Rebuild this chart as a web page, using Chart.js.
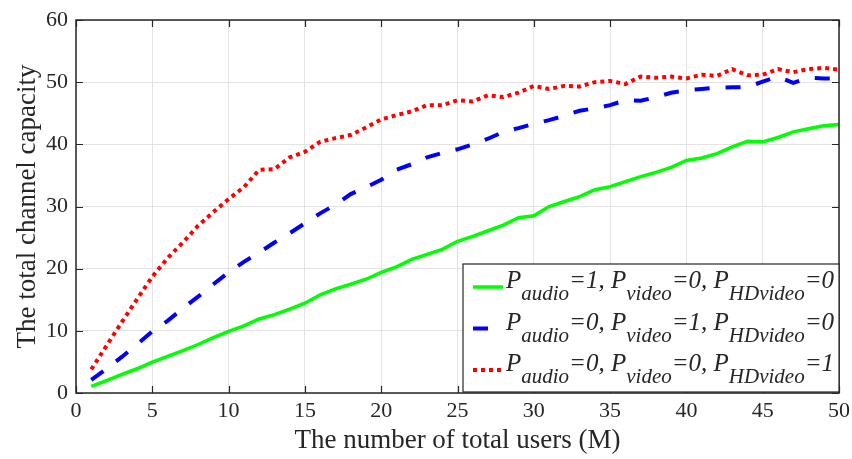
<!DOCTYPE html>
<html><head><meta charset="utf-8">
<script src="https://cdn.jsdelivr.net/npm/chart.js@4/dist/chart.umd.min.js"></script>
<style>html,body{margin:0;padding:0;background:#fff}#wrap{width:852px;height:459px;position:relative}</style>
</head><body><div id="wrap"><canvas id="c" width="852" height="459"></canvas></div>
<script>
// ---- data ----
const users = [1,2,3,4,5,6,7,8,9,10,11,12,13,14,15,16,17,18,19,20,21,22,23,24,25,26,27,28,29,30,31,32,33,34,35,36,37,38,39,40,41,42,43,44,45,46,47,48,49,50];
const audioCap = [1.05,2.0,3.0,3.9,4.96,5.9,6.8,7.8,8.9,9.9,10.8,11.9,12.6,13.5,14.45,15.8,16.75,17.5,18.3,19.4,20.3,21.5,22.3,23.1,24.4,25.2,26.1,27.0,28.2,28.5,30.0,30.8,31.6,32.7,33.2,34.0,34.8,35.5,36.3,37.4,37.8,38.5,39.6,40.5,40.4,41.1,42.0,42.5,43.0,43.2];
const videoCap = [2.1,3.9,5.8,7.8,9.9,11.6,13.6,15.5,17.5,19.4,21.1,22.6,24.2,25.7,27.3,28.9,30.3,32.0,33.1,34.3,35.9,36.8,37.9,38.6,39.2,40.0,40.9,42.0,42.6,43.3,43.9,44.6,45.4,45.8,46.3,47.1,47.0,47.6,48.3,48.7,48.9,49.1,49.2,49.2,50.1,50.9,49.9,50.7,50.6,50.6];
const hdCap = [3.8,7.6,11.4,15.1,18.7,21.7,24.2,26.9,29.1,31.2,33.1,35.9,36.0,37.9,38.8,40.4,41.0,41.5,42.7,44.0,44.7,45.3,46.3,46.3,47.1,46.9,47.9,47.6,48.3,49.4,48.9,49.4,49.3,50.0,50.2,49.7,50.9,50.7,50.9,50.6,51.2,51.0,52.1,51.1,51.2,52.1,51.6,52.1,52.3,52.0];
const xTickValues = [0,5,10,15,20,25,30,35,40,45,50];
const yTickValues = [0,10,20,30,40,50,60];
const xTitle = 'The number of total users (M)';
const yTitle = 'The total channel capacity';
const legendRows = [
  [['P','m'],['audio','s'],['=1, P','m'],['video','s'],['=0, P','m'],['HDvideo','s'],['=0','m']],
  [['P','m'],['audio','s'],['=0, P','m'],['video','s'],['=1, P','m'],['HDvideo','s'],['=0','m']],
  [['P','m'],['audio','s'],['=0, P','m'],['video','s'],['=0, P','m'],['HDvideo','s'],['=1','m']]
];

// ---- styles ----
const FONT = "'Liberation Serif','Times New Roman',serif";
const TXT = '#262626';
const styles = [
  {color:'#00ff00', dash:[], width:3.5},
  {color:'#0000ff', dash:[15,16], width:4},
  {color:'#ff0000', dash:[4,4], width:4}
];
const series = [audioCap, videoCap, hdCap];

const datasets = series.map((vals,i)=>({
  data: users.map((u,k)=>({x:u, y:vals[k]})),
  borderColor: styles[i].color,
  borderWidth: styles[i].width,
  borderDash: styles[i].dash,
  borderCapStyle: 'butt',
  borderJoinStyle: 'miter',
  pointRadius: 0,
  tension: 0,
  fill: false,
  order: 3 - i
}));

const boxPlugin = {
  id: 'matBox',
  afterDatasetsDraw(chart){
    const ctx = chart.ctx, a = chart.chartArea;
    const xs = chart.scales.x, ys = chart.scales.y;
    ctx.save();
    ctx.strokeStyle = TXT; ctx.lineWidth = 1.2; ctx.setLineDash([]);
    ctx.beginPath();
    const tl = 7;
    xTickValues.forEach(v=>{
      const p = Math.round(xs.getPixelForValue(v))+0.5;
      ctx.moveTo(p, a.bottom); ctx.lineTo(p, a.bottom - tl);
      ctx.moveTo(p, a.top); ctx.lineTo(p, a.top + tl);
    });
    yTickValues.forEach(v=>{
      const p = Math.round(ys.getPixelForValue(v))+0.5;
      ctx.moveTo(a.left, p); ctx.lineTo(a.left + tl, p);
      ctx.moveTo(a.right, p); ctx.lineTo(a.right - tl, p);
    });
    ctx.stroke();
    ctx.lineWidth = 1.5;
    ctx.strokeRect(a.left, a.top, a.right - a.left, a.bottom - a.top);

    // legend
    const lw = 376, lh = 128;
    const lx = a.right - lw, ly = a.bottom - 1 - lh;
    ctx.fillStyle = '#fff';
    ctx.fillRect(lx, ly, lw, lh);
    ctx.lineWidth = 1.2; ctx.strokeStyle = TXT;
    ctx.strokeRect(lx, ly, lw, lh);
    legendRows.forEach((row, i)=>{
      const cy = ly + 23 + i*41.5;
      const s = styles[i];
      ctx.save();
      ctx.beginPath();
      ctx.rect(lx+9, cy-5, 31, 10);
      ctx.clip();
      ctx.strokeStyle = s.color; ctx.lineWidth = s.width; ctx.lineCap = 'butt';
      ctx.setLineDash(s.dash);
      ctx.beginPath(); ctx.moveTo(lx+10, cy); ctx.lineTo(lx+40, cy); ctx.stroke();
      ctx.restore();
      let x = lx + 43;
      ctx.fillStyle = TXT; ctx.textBaseline = 'alphabetic'; ctx.textAlign = 'left';
      row.forEach(([t, kind])=>{
        if (kind === 'm') {
          ctx.font = 'italic 25px ' + FONT;
          ctx.fillText(t, x, cy + 1);
        } else {
          ctx.font = 'italic 21px ' + FONT;
          ctx.fillText(t, x, cy + 13);
        }
        x += ctx.measureText(t).width;
      });
    });
    ctx.restore();
  }
};

new Chart(document.getElementById('c'), {
  type: 'line',
  data: { datasets },
  options: {
    responsive: false,
    animation: false,
    devicePixelRatio: 1,
    layout: { padding: {left:0, right:13, top:20, bottom:0} },
    plugins: { legend:{display:false}, tooltip:{enabled:false} },
    scales: {
      x: {
        type: 'linear', min: 0, max: 50,
        afterBuildTicks: s => { s.ticks = xTickValues.map(v=>({value:v})); },
        afterFit: s => { s.height = 66; s.paddingRight = 0; s.paddingLeft = 0; },
        grid: { color: '#e3e3e3', lineWidth: 1, drawTicks: false },
        border: { display: false },
        ticks: { color: TXT, font: {family: FONT, size: 22}, padding: 5, maxRotation: 0 },
        title: { display: true, text: xTitle, color: TXT, font: {family: FONT, size: 27}, padding: {top:0, bottom:2} }
      },
      y: {
        type: 'linear', min: 0, max: 60,
        afterBuildTicks: s => { s.ticks = yTickValues.map(v=>({value:v})); },
        afterFit: s => { s.width = 76; s.paddingTop = 0; s.paddingBottom = 0; },
        grid: { color: '#e3e3e3', lineWidth: 1, drawTicks: false },
        border: { display: false },
        ticks: { color: TXT, font: {family: FONT, size: 22}, padding: 8 },
        title: { display: true, text: yTitle, color: TXT, font: {family: FONT, size: 27}, padding: {top:12, bottom:0} }
      }
    }
  },
  plugins: [boxPlugin]
});
</script></body></html>
